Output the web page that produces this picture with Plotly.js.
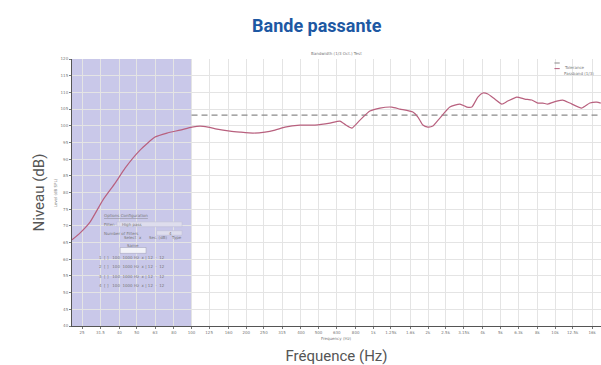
<!DOCTYPE html>
<html>
<head>
<meta charset="utf-8">
<script src="https://cdn.plot.ly/plotly-3.0.1.min.js"></script>
<style>
html,body{margin:0;padding:0;background:#fff;}
#chart{width:601px;height:365px;}
</style>
</head>
<body>
<div id="chart"></div>
<script>
// Measured response (Hz, dB)
const freq = [22.0, 24.4, 27.7, 32.6, 38.0, 43.1, 52.1, 63.0, 73.3, 86.5, 100.6, 111.4, 123.3, 138.1, 162.8, 184.8, 217.8, 253.5, 287.8, 326.7, 395, 477.7, 577.8, 655.9, 707, 763, 845, 958, 1088, 1266, 1401, 1651, 1760, 1874, 1996, 2127, 2325, 2638, 2995, 3272, 3486, 3761, 4006, 4271, 4661, 5096, 5496, 6160, 6818, 7450, 8040, 8563, 9122, 10229, 11030, 12053, 14035, 15533, 16970, 17850];
const level = [65.8, 67.9, 71.2, 77.8, 82.8, 87.3, 92.7, 96.6, 97.8, 98.7, 99.6, 99.9, 99.6, 99.0, 98.4, 98.1, 97.8, 98.1, 98.7, 99.6, 100.2, 100.2, 100.8, 101.4, 100.2, 99.3, 101.7, 104.4, 105.3, 105.6, 105.0, 104.1, 102.6, 100.2, 99.6, 99.9, 102.3, 105.6, 106.5, 105.6, 105.6, 108.6, 109.8, 109.5, 108.0, 106.5, 107.4, 108.6, 108.0, 107.7, 106.8, 106.8, 106.5, 107.4, 107.7, 106.8, 105.3, 106.8, 107.1, 106.8];
// Tolerance line
const tolFreq = [100, 17850];
const tolLevel = [103.2, 103.2];
// Shaded (excluded) band
const bandFreq = [1, 100];
// Axis ticks
const xTickVals = [25, 31.5, 40, 50, 63, 80, 100, 125, 160, 200, 250, 315, 400, 500, 630, 800, 1000, 1250, 1600, 2000, 2500, 3150, 4000, 5000, 6300, 8000, 10000, 12500, 16000];
const xTickText = ["25", "31.5", "40", "50", "63", "80", "100", "125", "160", "200", "250", "315", "400", "500", "630", "800", "1k", "1.25k", "1.6k", "2k", "2.5k", "3.15k", "4k", "5k", "6.3k", "8k", "10k", "12.5k", "16k"];
const xRange = [22, 17900];
const yRange = [40, 120];
const seriesNames = ['Tolerance', 'Passband (1/3)'];

const traces = [
  {x: tolFreq, y: tolLevel, type: 'scatter', mode: 'lines', name: seriesNames[0],
   line: {color: '#8a8a8a', width: 1.2, dash: '6px,4px'}},
  {x: freq, y: level, type: 'scatter', mode: 'lines', name: seriesNames[1],
   line: {color: '#b8607e', width: 1.2, shape: 'spline', smoothing: 0.5}}
];

const tiny = {family: 'DejaVu Sans', size: 4, color: '#777'};
const layout = {
  width: 601, height: 365,
  margin: {l: 72, r: 0, t: 59, b: 39},
  paper_bgcolor: '#ffffff', plot_bgcolor: '#ffffff',
  title: {text: '<b>Bande passante</b>', x: 0.527, xanchor: 'center', y: 0.93, yanchor: 'middle',
          font: {family: 'Roboto', size: 18, color: '#1d58a3'}},
  showlegend: false,
  xaxis: {type: 'log', range: xRange.map(Math.log10), tickvals: xTickVals, ticktext: xTickText,
          tickfont: tiny, showgrid: true, gridcolor: '#e4e4e4', gridwidth: 1,
          showline: true, linecolor: '#555', linewidth: 1, ticks: 'outside', ticklen: 2, tickcolor: '#777',
          zeroline: false,
          title: {text: 'Fréquence (Hz)', standoff: 17, font: {family: 'Roboto', size: 15, color: '#555'}}},
  yaxis: {range: yRange, dtick: 5, tickfont: tiny, showgrid: true, gridcolor: '#e4e4e4', gridwidth: 1,
          showline: true, linecolor: '#555', linewidth: 1, ticks: 'outside', ticklen: 2, tickcolor: '#777',
          zeroline: false,
          title: {text: 'Niveau (dB)', standoff: 12, font: {family: 'Roboto', size: 15, color: '#555'}}},
  shapes: [
    {type: 'rect', xref: 'x', yref: 'paper', x0: bandFreq[0], x1: bandFreq[1], y0: 0, y1: 1,
     fillcolor: '#c9c8e9', line: {width: 0}, layer: 'below'},
    // option panel widgets
    {type: 'rect', xref: 'paper', yref: 'paper', x0: 0.085, x1: 0.208, y0: 0.372, y1: 0.39, fillcolor: '#dedded', line: {color: '#bcbcd4', width: 0.5}},
    {type: 'rect', xref: 'paper', yref: 'paper', x0: 0.16, x1: 0.208, y0: 0.34, y1: 0.357, fillcolor: '#dedded', line: {color: '#bcbcd4', width: 0.5}},
    {type: 'rect', xref: 'paper', yref: 'paper', x0: 0.091, x1: 0.14, y0: 0.272, y1: 0.294, fillcolor: '#f2f2f8', line: {color: '#9a9ab4', width: 0.5}},
    // legend keys
    {type: 'line', xref: 'paper', yref: 'paper', x0: 0.912, x1: 0.922, y0: 0.985, y1: 0.985, line: {color: '#8a8a8a', width: 1}},
    {type: 'line', xref: 'paper', yref: 'paper', x0: 0.912, x1: 0.922, y0: 0.964, y1: 0.964, line: {color: '#b8607e', width: 1}}
  ],
  annotations: [
    {xref: 'paper', yref: 'paper', x: 0.926, y: 0.985, xanchor: 'left', text: seriesNames[0], showarrow: false, font: tiny},
    {xref: 'paper', yref: 'paper', x: 0.926, y: 0.964, xanchor: 'left', text: seriesNames[1], showarrow: false, font: tiny},
    {xref: 'paper', yref: 'paper', x: 0.5, y: 1.005, yanchor: 'bottom', text: 'Bandwidth (1/3 Oct.) Test', showarrow: false, font: tiny},
    {xref: 'paper', yref: 'paper', x: 0.5, y: -0.046, yanchor: 'middle', text: 'Frequency (Hz)', showarrow: false, font: tiny},
    {xref: 'paper', yref: 'paper', x: -0.022, y: 0.5, xanchor: 'right', text: 'Level (dB SPL)', textangle: -90, showarrow: false, font: tiny},
    {xref: 'paper', yref: 'paper', x: 0.056, y: 0.412, xanchor: 'left', text: '<u>Options Configuration</u>', showarrow: false, font: tiny},
    {xref: 'paper', yref: 'paper', x: 0.056, y: 0.381, xanchor: 'left', text: 'Filter:', showarrow: false, font: tiny},
    {xref: 'paper', yref: 'paper', x: 0.09, y: 0.381, xanchor: 'left', text: 'High pass', showarrow: false, font: tiny},
    {xref: 'paper', yref: 'paper', x: 0.056, y: 0.348, xanchor: 'left', text: 'Number of Filters', showarrow: false, font: tiny},
    {xref: 'paper', yref: 'paper', x: 0.18, y: 0.348, xanchor: 'left', text: '4', showarrow: false, font: tiny},
    {xref: 'paper', yref: 'paper', x: 0.094, y: 0.315, xanchor: 'left', text: 'Select  x      Sec. (dB)    Type', showarrow: false, font: tiny},
    {xref: 'paper', yref: 'paper', x: 0.1, y: 0.283, xanchor: 'left', text: 'Same', showarrow: false, font: tiny},
    {xref: 'paper', yref: 'paper', x: 0.047, y: 0.24, xanchor: 'left', text: '1  [ ]   100  1000 Hz  x | 12  ·  12', showarrow: false, font: tiny},
    {xref: 'paper', yref: 'paper', x: 0.047, y: 0.207, xanchor: 'left', text: '2  [ ]   100  1000 Hz  x | 12  ·  12', showarrow: false, font: tiny},
    {xref: 'paper', yref: 'paper', x: 0.047, y: 0.168, xanchor: 'left', text: '3  [ ]   100  1000 Hz  x | 12  ·  12', showarrow: false, font: tiny},
    {xref: 'paper', yref: 'paper', x: 0.047, y: 0.134, xanchor: 'left', text: '4  [ ]   100  1000 Hz  x | 12  ·  12', showarrow: false, font: tiny}
  ]
};

Plotly.newPlot('chart', traces, layout, {displayModeBar: false, staticPlot: true});
</script>
</body>
</html>
